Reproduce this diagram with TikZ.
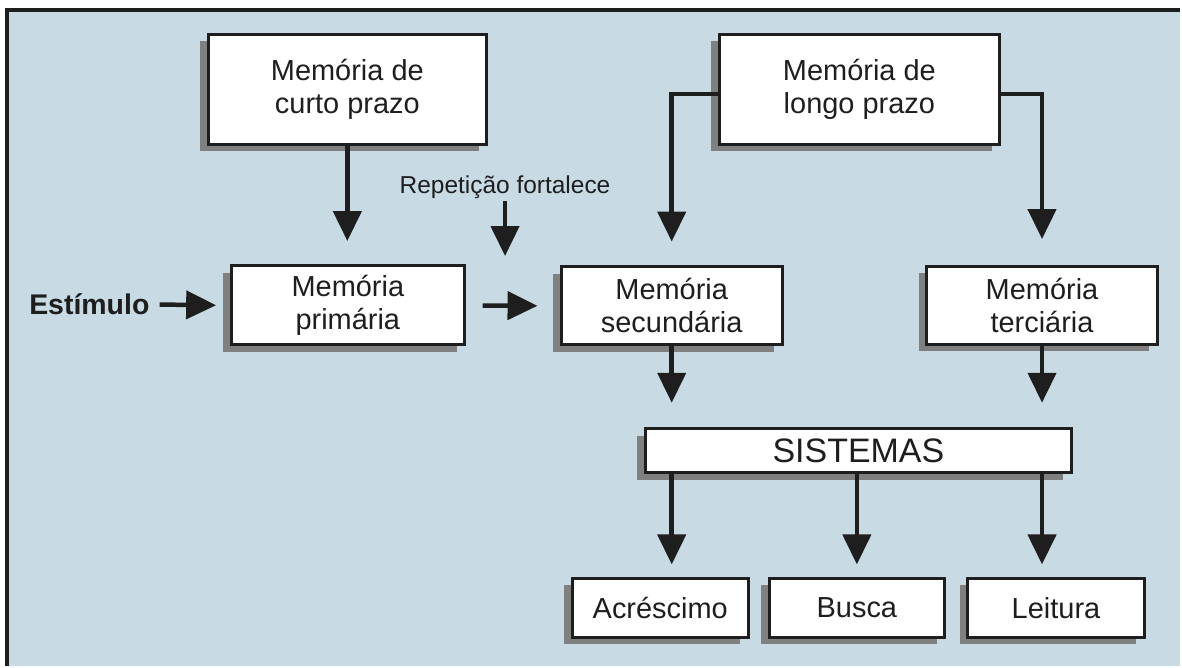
\documentclass[tikz,border=0pt]{standalone}
\usepackage{fontspec}
\setmainfont{Liberation Sans}
\usetikzlibrary{positioning,arrows.meta,shadows}
\definecolor{painel}{RGB}{200,219,229}
\definecolor{sombra}{RGB}{128,128,128}
\definecolor{tinta}{RGB}{30,30,30}

\begin{document}
\begin{tikzpicture}[x=1pt,y=-1pt,>={Triangle[length=30pt,width=28pt]},
  caixa/.style={draw=tinta,line width=3pt,fill=white,inner sep=0pt,align=center,text=tinta,
    font=\fontsize{29}{33}\selectfont,
    drop shadow={shadow xshift=-8pt,shadow yshift=-7pt,opacity=1,fill=sombra}},
  seta/.style={->,line width=4.5pt,draw=tinta}]
\fill[white] (0,0) rectangle (1182,667);
\fill[painel] (7,10) rectangle (1182,667);
\draw[line width=4.5pt,tinta] (7,667) -- (7,10) -- (1182,10);
\node[caixa,minimum width=279pt,minimum height=110pt] (curto) at (348,89.5) {Memória de\\curto prazo};
\node[caixa,minimum width=281pt,minimum height=110pt] (longo) at (861,89.5) {Memória de\\longo prazo};
\node[caixa,minimum width=234pt,minimum height=79pt] (prim) at (348.5,306) {Memória\\primária};
\node[caixa,minimum width=221pt,minimum height=78pt] (sec) at (673,306.5) {Memória\\secundária};
\node[caixa,minimum width=231pt,minimum height=78pt] (ter) at (1044,306) {Memória\\terciária};
\node[caixa,minimum width=427pt,minimum height=44pt,font=\fontsize{34}{38}\selectfont] (sis) at (860,451.5) {SISTEMAS};
\node[caixa,minimum width=176pt,minimum height=59pt] (acr) at (661.5,609) {Acréscimo};
\node[caixa,minimum width=176pt,minimum height=59pt] (bus) at (858.5,609) {Busca};
\node[caixa,minimum width=177pt,minimum height=59pt] (lei) at (1058,609) {Leitura};
\node[text=tinta,font=\bfseries\fontsize{28.5}{32}\selectfont,inner sep=0pt] (estimulo) at (89.5,305) {Estímulo};
\node[text=tinta,font=\fontsize{24.5}{28}\selectfont,inner sep=2pt] (repet) at (506,188) {Repetição fortalece};
\draw[seta,shorten >=23.5pt] (curto.south) -- (curto.south |- prim.north);
\draw[seta,shorten >=8.5pt] (repet.south) -- (repet.south |- prim.north);
\draw[seta,shorten <=10pt,shorten >=13.5pt] (estimulo.east) -- (prim.west);
\draw[seta,shorten <=16.5pt,shorten >=22.5pt] (prim.east) -- (sec.west);
\draw[seta,shorten >=24pt] ([yshift=-4.5pt]longo.west) -| (sec.north);
\draw[seta,shorten >=26pt] ([yshift=-4.5pt]longo.east) -| (ter.north);
\draw[seta,shorten >=24.5pt] (sec.south) -- (sec.south |- sis.north);
\draw[seta,shorten >=24.5pt] (ter.south) -- (ter.south |- sis.north);
\draw[seta,shorten >=12.5pt] (sec |- sis.south) -- (sec |- acr.north);
\draw[seta,shorten >=12.5pt] (bus |- sis.south) -- (bus.north);
\draw[seta,shorten >=12.5pt] (ter |- sis.south) -- (ter |- lei.north);
\end{tikzpicture}
\end{document}
